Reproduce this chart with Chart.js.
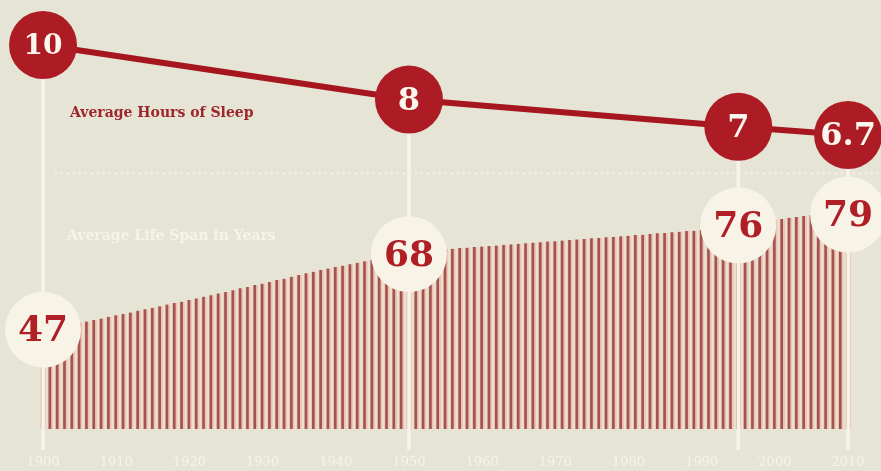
<!DOCTYPE html>
<html>
<head>
<meta charset="utf-8">
<script src="https://cdn.jsdelivr.net/npm/chart.js@4.4.1/dist/chart.umd.min.js"></script>
<style>
    html, body { margin: 0; padding: 0; background: #e6e4d5; overflow: hidden; }
    #wrap { width: 881px; height: 471px; position: relative; }
</style>
</head>
<body>
<div id="wrap"><canvas id="chart"></canvas></div>
<script>
// key years with a marker
var markerYears = [1900, 1950, 1995, 2010];
var sleepHours = [10, 8, 7, 6.7];
var lifeMarkers = [47, 68, 76, 79];
var sleepLabels = ["10", "8", "7", "6.7"];
var lifeLabels = ["47", "68", "76", "79"];

// one bar per year, 1900 - 2010
var years = [];
for (var y = 1900; y <= 2010; y++) years.push(y);

var lifeSpan = [
    47.0, 47.4, 47.8, 48.1, 48.5, 48.9, 49.3, 49.7, 50.1, 50.6,
    51.0, 51.4, 51.8, 52.3, 52.7, 53.1, 53.5, 54.0, 54.4, 54.8,
    55.3, 55.7, 56.2, 56.6, 57.1, 57.5, 58.0, 58.5, 58.9, 59.4,
    59.8, 60.3, 60.8, 61.2, 61.7, 62.2, 62.7, 63.1, 63.6, 64.0,
    64.4, 64.8, 65.2, 65.6, 66.0, 66.4, 66.7, 67.0, 67.3, 67.6,
    68.0, 68.3, 68.6, 68.8, 69.1, 69.4, 69.5, 69.7, 69.8, 70.0,
    70.1, 70.3, 70.4, 70.6, 70.7, 70.9, 71.0, 71.2, 71.3, 71.5,
    71.6, 71.8, 71.9, 72.1, 72.2, 72.4, 72.5, 72.7, 72.8, 73.0,
    73.1, 73.3, 73.4, 73.6, 73.8, 73.9, 74.1, 74.2, 74.4, 74.5,
    74.7, 75.0, 75.2, 75.5, 75.7, 76.0, 76.3, 76.6, 76.9, 77.2,
    77.5, 77.8, 78.1, 78.3, 78.6, 78.9, 79.0, 79.0, 79.0, 79.0,
    79.0
];

var tickYears = [1900, 1910, 1920, 1930, 1940, 1950, 1960, 1970, 1980, 1990, 2000, 2010];

var BG = "#e6e4d5";
var CREAM = "#f7f4e7";
var RED = "#ad1c24";

function xy(xs, ys) {
    var r = [];
    for (var i = 0; i < xs.length; i++) r.push({ x: xs[i], y: ys[i] });
    return r;
}

var dropLines = [];
for (var i = 0; i < markerYears.length; i++) {
    dropLines.push({ x: markerYears[i], y: [-4.85, sleepHours[i]] });
}

var labelPlugin = {
    id: "labels",
    afterDatasetsDraw: function (chart) {
        var ctx = chart.ctx;
        var area = chart.chartArea;
        ctx.save();
        ctx.textBaseline = "alphabetic";
        ctx.textAlign = "left";
        ctx.font = "bold 14px 'DejaVu Serif'";
        ctx.fillStyle = "#9c262c";
        ctx.fillText("Average Hours of Sleep", area.left + 70, area.top + 117);
        ctx.fillStyle = CREAM;
        ctx.fillText("Average Life Span in Years", area.left + 67, area.top + 240);

        ctx.textAlign = "center";
        ctx.textBaseline = "middle";
        var sleepMeta = chart.getDatasetMeta(4);
        ctx.fillStyle = "#fbf6ee";
        for (var i = 0; i < sleepMeta.data.length; i++) {
            var p = sleepMeta.data[i];
            // the two-digit label is narrower in the original
            ctx.font = sleepLabels[i].length == 2 ? "bold 28px 'DejaVu Serif'" : "bold 32px 'DejaVu Serif'";
            ctx.fillText(sleepLabels[i], p.x, p.y + 2);
        }
        var lifeMeta = chart.getDatasetMeta(3);
        ctx.font = "bold 36px 'DejaVu Serif'";
        ctx.fillStyle = "#b01e26";
        for (var j = 0; j < lifeMeta.data.length; j++) {
            var q = lifeMeta.data[j];
            ctx.fillText(lifeLabels[j], q.x, q.y + 2);
        }
        ctx.restore();
    }
};

var chart = new Chart(document.getElementById("chart"), {
    type: "bar",
    data: {
        datasets: [{
            type: "bar",
            data: xy(years, lifeSpan),
            yAxisID: "yLife",
            base: 19.4,
            grouped: false,
            barThickness: 5,
            backgroundColor: "#a05550",
            borderColor: "#f2c3b5",
            borderWidth: { left: 1, right: 2, top: 0, bottom: 0 },
            borderSkipped: false,
            order: 6
        }, {
            type: "line",
            data: [{ x: 1901.6, y: 5.3 }, { x: 2014.5, y: 5.3 }],
            yAxisID: "ySleep",
            borderColor: CREAM,
            borderWidth: 2,
            borderDash: [2, 4],
            pointRadius: 0,
            order: 5
        }, {
            type: "bar",
            data: dropLines,
            yAxisID: "ySleep",
            grouped: false,
            barThickness: 3,
            backgroundColor: CREAM,
            order: 4
        }, {
            type: "scatter",
            data: xy(markerYears, lifeMarkers),
            yAxisID: "yLife",
            pointRadius: 38,
            pointBackgroundColor: CREAM,
            pointBorderWidth: 0,
            order: 3
        }, {
            type: "line",
            data: xy(markerYears, sleepHours),
            yAxisID: "ySleep",
            borderColor: "#a5161e",
            borderWidth: 6,
            pointRadius: 34,
            pointBackgroundColor: RED,
            pointBorderWidth: 0,
            order: 1
        }]
    },
    options: {
        responsive: true,
        maintainAspectRatio: false,
        animation: false,
        events: [],
        layout: { padding: 0, autoPadding: false },
        plugins: {
            legend: { display: false },
            tooltip: { enabled: false }
        },
        scales: {
            x: {
                type: "linear",
                min: 1894.12,
                max: 2014.5,
                offset: false,
                grid: { display: false, drawTicks: false },
                border: { display: false },
                afterFit: function (scale) { scale.height = 21; },
                afterBuildTicks: function (scale) {
                    scale.ticks = tickYears.map(function (v) { return { value: v }; });
                },
                ticks: {
                    autoSkip: false,
                    maxRotation: 0,
                    padding: 5,
                    color: CREAM,
                    font: { family: "'DejaVu Serif'", size: 13 },
                    callback: function (v) { return String(v); }
                }
            },
            yLife: {
                type: "linear",
                display: false,
                min: 13.6,
                max: 138.6
            },
            ySleep: {
                type: "linear",
                display: false,
                min: -4.85,
                max: 11.65
            }
        }
    },
    plugins: [labelPlugin]
});
</script>
</body>
</html>
